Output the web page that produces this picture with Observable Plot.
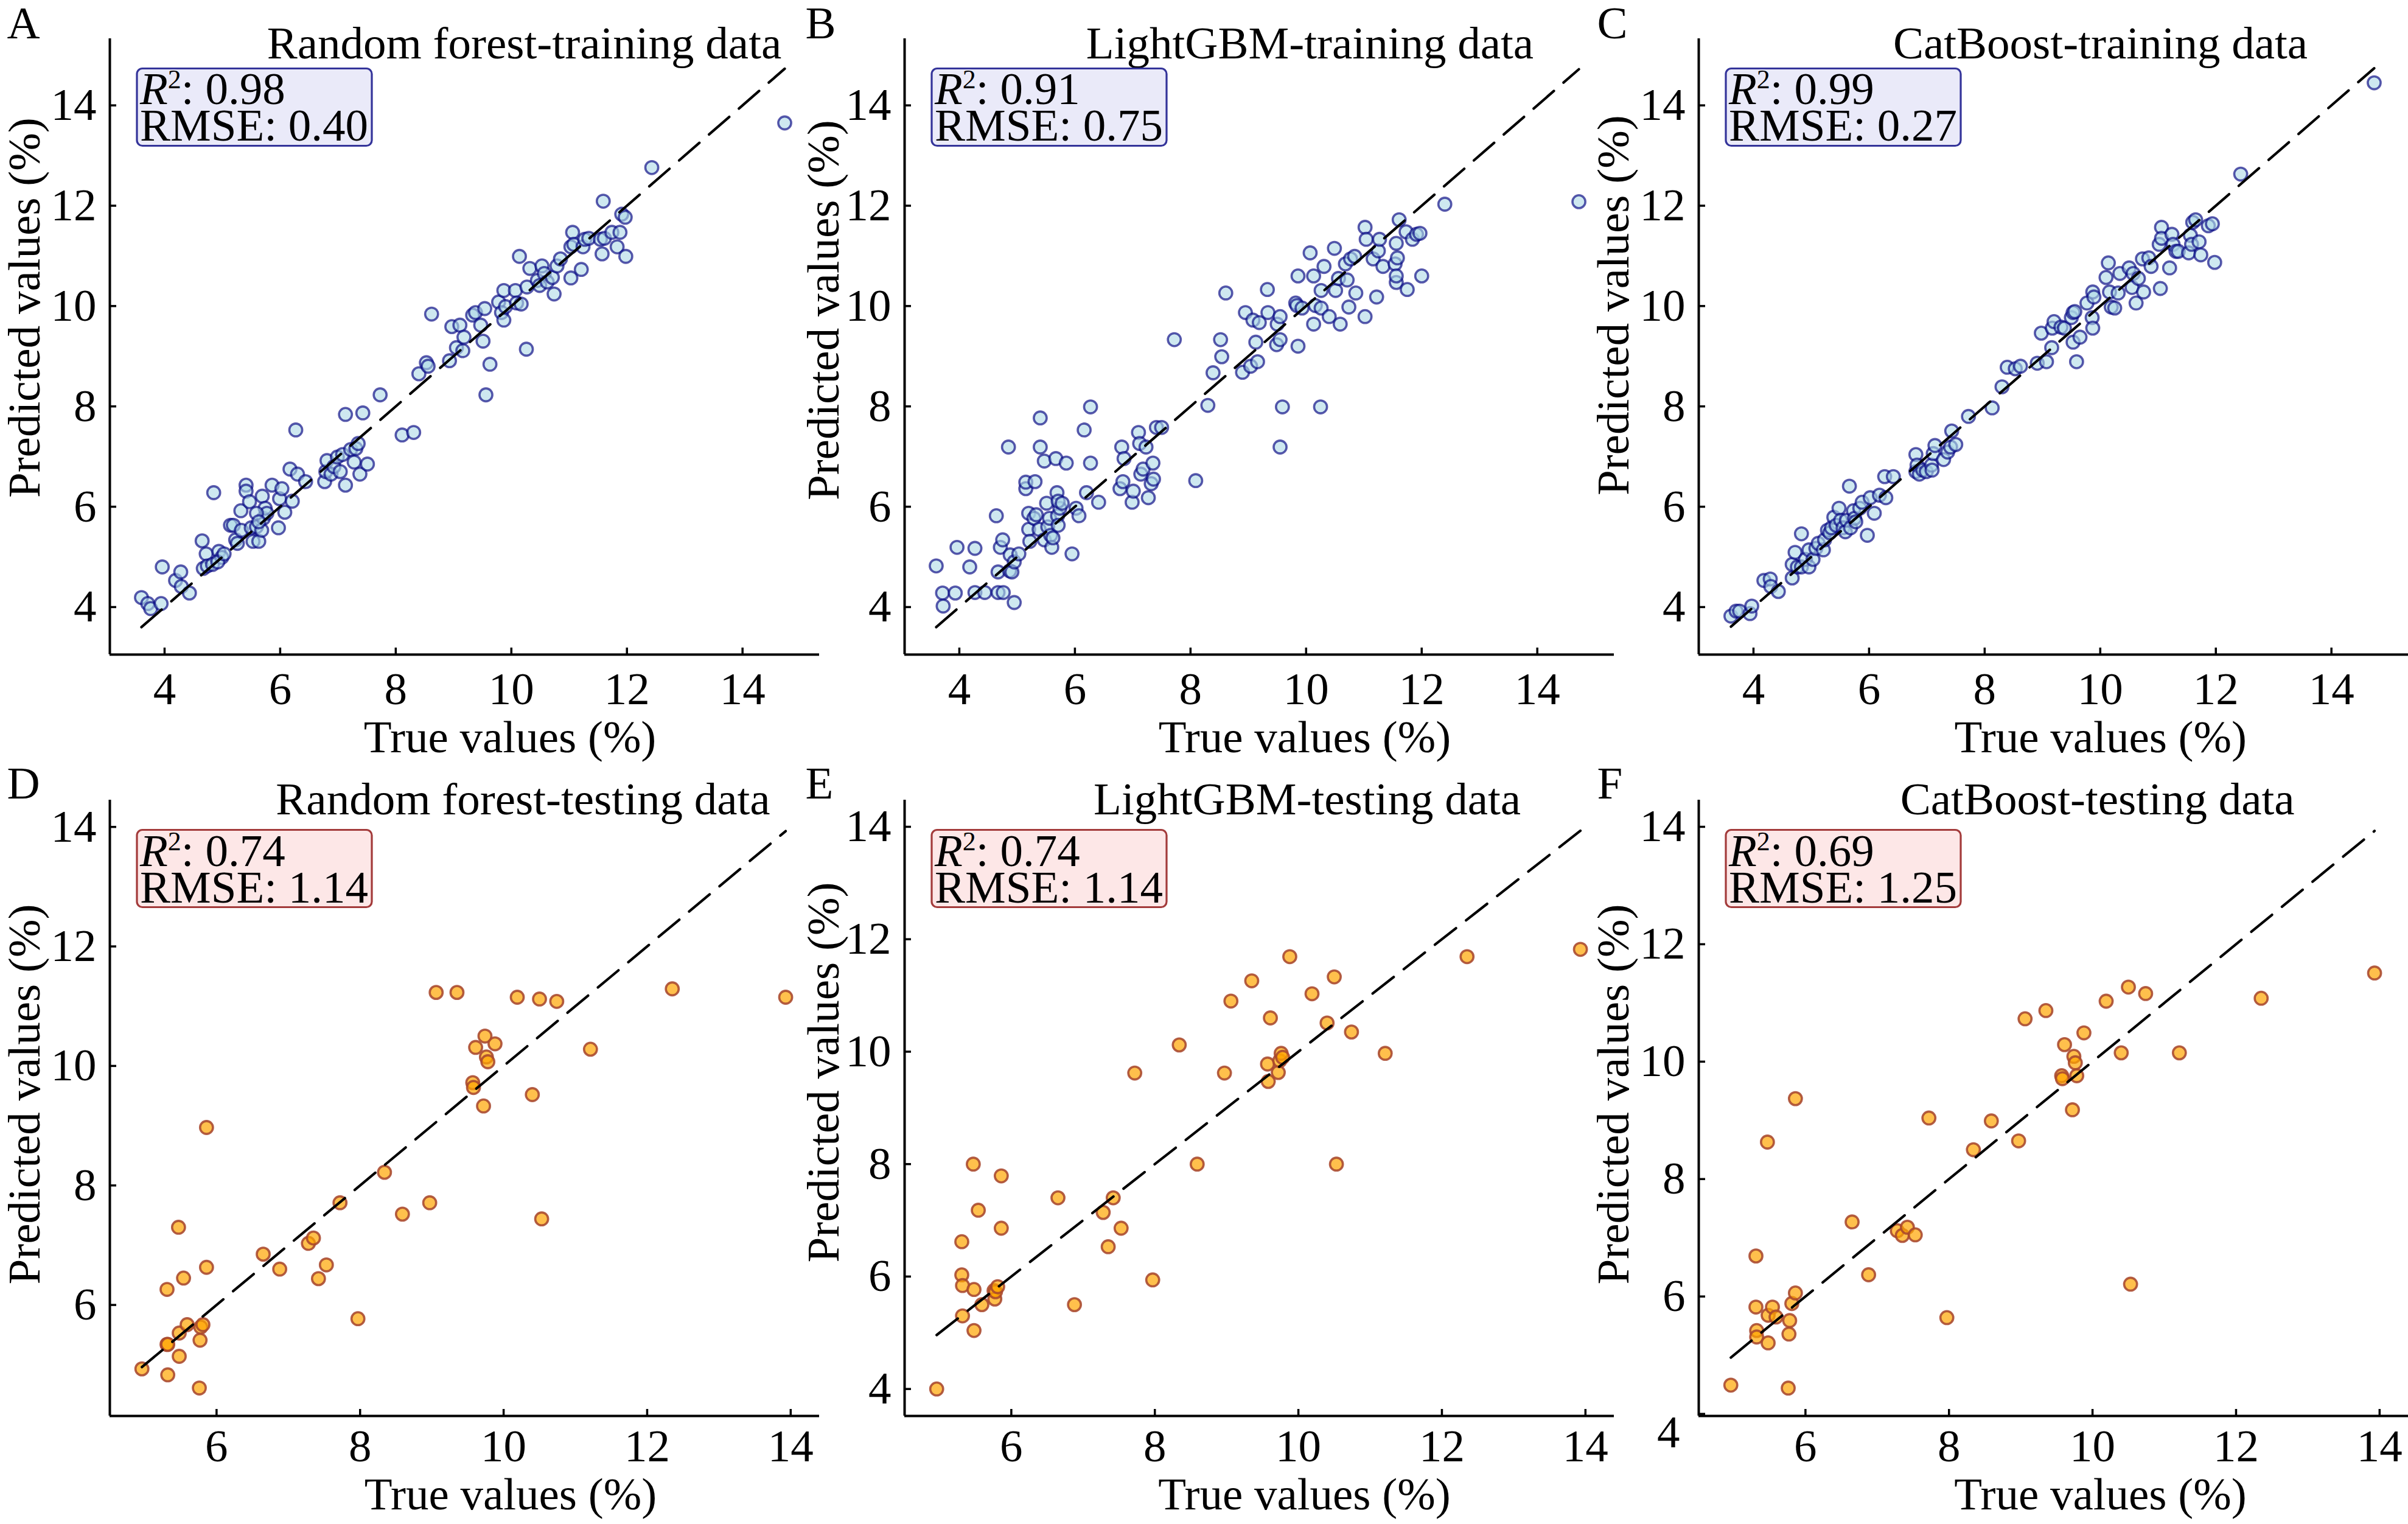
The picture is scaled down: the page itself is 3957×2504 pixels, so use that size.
<!DOCTYPE html>
<html><head><meta charset="utf-8">
<script src="https://cdn.jsdelivr.net/npm/d3@7"></script>
<script src="https://cdn.jsdelivr.net/npm/@observablehq/plot@0.6"></script>
<style>
html,body{margin:0;padding:0;background:#fff}
#fig{position:relative;width:3957px;height:2504px;background:#fff;overflow:hidden}
#fig svg{position:absolute}
</style></head>
<body><div id="fig"></div>
<script>
// ---------- DATA ----------
// Training set: [true, predicted] for each model
const rfTrain = [[3.60,4.19],[3.71,4.07],[3.76,3.97],[3.94,4.07],[3.96,4.80],[4.19,4.53],[4.28,4.70],[4.29,4.41],[4.43,4.28],[4.65,5.32],[4.72,5.06],[4.67,4.77],[4.74,4.82],[4.83,4.85],[4.94,5.11],[4.99,4.99],[4.92,4.90],[5.03,5.06],[4.85,6.28],[5.14,5.63],[5.19,5.63],[5.23,5.34],[5.26,5.27],[5.32,5.92],[5.33,5.53],[5.41,6.43],[5.41,6.31],[5.47,6.10],[5.50,5.58],[5.53,5.31],[5.59,5.60],[5.63,5.31],[5.68,5.53],[5.69,6.21],[5.71,5.77],[5.74,5.97],[5.77,5.87],[5.86,6.43],[5.97,5.58],[5.99,6.16],[6.03,6.36],[6.08,5.89],[6.21,6.11],[6.17,6.75],[6.30,6.65],[6.27,7.53],[6.44,6.50],[5.59,5.87],[5.63,5.70],[6.77,6.50],[6.79,6.70],[6.81,6.92],[6.88,6.65],[6.93,6.80],[6.99,6.99],[7.04,6.70],[7.08,7.04],[7.13,6.43],[7.13,7.84],[7.22,7.14],[7.28,6.89],[7.31,7.16],[7.35,7.26],[7.38,6.65],[7.43,7.87],[7.51,6.85],[7.73,8.23],[8.11,7.43],[8.31,7.48],[8.40,8.65],[8.53,8.87],[8.56,8.80],[8.62,9.84],[8.93,8.91],[8.97,9.59],[9.05,9.17],[9.11,9.62],[9.16,9.11],[9.18,9.38],[9.33,9.82],[9.38,9.87],[9.47,9.62],[9.51,9.30],[9.54,9.95],[9.56,8.23],[9.63,8.84],[9.78,10.08],[9.83,9.87],[9.87,9.72],[9.87,10.31],[9.90,9.99],[10.07,10.31],[10.09,10.06],[10.14,10.99],[10.17,10.04],[10.26,9.14],[10.27,10.38],[10.32,10.75],[10.45,10.51],[10.49,10.41],[10.53,10.80],[10.57,10.65],[10.62,10.48],[10.71,10.57],[10.74,10.24],[10.79,10.80],[10.85,10.94],[11.03,11.18],[11.03,10.56],[11.06,11.47],[11.08,11.23],[11.21,10.73],[11.24,11.18],[11.27,11.33],[11.34,11.35],[11.54,11.33],[11.57,11.04],[11.59,12.09],[11.61,11.35],[11.74,11.47],[11.83,11.18],[11.88,11.47],[11.91,11.83],[11.97,11.77],[11.98,10.99],[12.43,12.76],[14.73,13.65]];
const lgbmTrain = [[3.60,4.82],[3.71,4.28],[3.72,4.02],[3.93,4.28],[3.96,5.19],[4.18,4.80],[4.27,5.17],[4.27,4.29],[4.44,4.29],[4.67,4.29],[4.76,4.29],[4.95,4.09],[4.64,5.82],[4.67,4.70],[4.71,5.19],[4.75,5.34],[4.85,7.19],[4.87,4.72],[4.88,5.04],[4.91,4.70],[4.95,4.90],[5.03,5.06],[5.15,6.36],[5.15,6.49],[5.20,5.87],[5.20,5.55],[5.22,5.31],[5.29,5.77],[5.33,5.84],[5.31,6.50],[5.38,5.55],[5.40,7.19],[5.40,7.77],[5.47,6.91],[5.47,5.34],[5.51,6.07],[5.53,5.60],[5.56,5.77],[5.58,5.43],[5.60,5.19],[5.62,5.38],[5.67,6.96],[5.69,6.28],[5.70,5.82],[5.71,5.63],[5.74,5.97],[5.71,6.11],[5.78,6.07],[5.85,6.87],[5.95,5.06],[6.02,5.97],[6.07,5.82],[6.16,7.53],[6.20,6.28],[6.27,7.99],[6.27,6.87],[6.41,6.09],[6.78,6.36],[6.81,7.19],[6.83,6.50],[6.85,6.96],[6.99,6.09],[7.01,6.31],[7.10,7.48],[7.12,7.26],[7.14,6.65],[7.18,6.75],[7.23,7.19],[7.27,6.18],[7.32,6.46],[7.35,6.87],[7.36,6.55],[7.41,7.58],[7.50,7.58],[7.72,9.33],[8.09,6.52],[8.30,8.02],[8.39,8.67],[8.52,9.33],[8.54,8.99],[8.61,10.26],[8.90,8.68],[8.95,9.87],[9.04,8.80],[9.08,9.72],[9.13,9.28],[9.16,8.89],[9.19,9.67],[9.33,10.33],[9.34,9.87],[9.49,9.23],[9.50,9.64],[9.55,9.33],[9.55,7.19],[9.59,7.99],[9.55,9.79],[9.82,10.06],[9.84,10.01],[9.86,9.20],[9.86,10.60],[9.93,9.96],[10.07,11.06],[10.13,10.60],[10.13,9.64],[10.16,10.01],[10.25,7.99],[10.26,10.31],[10.26,9.96],[10.31,10.79],[10.40,9.79],[10.49,11.15],[10.51,10.31],[10.56,10.55],[10.59,9.64],[10.68,10.84],[10.71,10.52],[10.74,9.98],[10.77,10.94],[10.84,10.99],[10.86,10.26],[11.02,11.57],[11.02,9.79],[11.04,11.33],[11.16,10.94],[11.22,10.18],[11.25,11.10],[11.27,11.33],[11.33,10.79],[11.54,10.84],[11.56,11.25],[11.58,10.96],[11.56,10.47],[11.56,10.60],[11.61,11.72],[11.73,11.48],[11.75,10.33],[11.84,11.33],[11.91,11.43],[11.97,11.45],[12.00,10.60],[12.40,12.03],[14.72,12.08]];
const catTrain = [[3.61,3.82],[3.70,3.92],[3.76,3.92],[3.94,3.87],[3.97,4.02],[4.18,4.53],[4.29,4.56],[4.30,4.41],[4.43,4.31],[4.67,4.58],[4.67,4.85],[4.72,5.09],[4.76,4.80],[4.83,5.46],[4.83,4.80],[4.90,4.95],[4.96,5.14],[4.96,4.80],[5.03,4.95],[5.08,5.17],[5.12,5.27],[5.21,5.14],[5.23,5.34],[5.28,5.53],[5.32,5.48],[5.35,5.58],[5.39,5.79],[5.43,5.63],[5.48,5.97],[5.51,5.73],[5.55,5.58],[5.59,5.50],[5.61,5.73],[5.66,6.41],[5.68,5.58],[5.73,5.92],[5.75,5.77],[5.77,5.70],[5.84,5.97],[5.88,6.09],[5.97,5.43],[6.02,6.18],[6.09,5.87],[6.18,6.23],[6.29,6.18],[6.27,6.60],[6.42,6.60],[6.81,7.04],[6.81,6.70],[6.83,6.83],[6.87,6.65],[6.93,6.73],[6.99,6.70],[7.08,6.83],[7.09,6.73],[7.11,7.06],[7.14,7.22],[7.29,6.94],[7.36,7.09],[7.41,7.19],[7.43,7.51],[7.50,7.24],[7.72,7.80],[8.13,7.97],[8.30,8.39],[8.39,8.78],[8.53,8.75],[8.62,8.80],[8.91,8.86],[8.98,9.46],[9.07,8.89],[9.16,9.17],[9.17,9.56],[9.20,9.69],[9.32,9.58],[9.38,9.56],[9.50,9.77],[9.53,9.87],[9.53,9.28],[9.56,9.89],[9.59,8.89],[9.65,9.38],[9.77,10.06],[9.86,9.77],[9.87,9.56],[9.87,10.28],[9.89,10.18],[10.10,10.57],[10.14,10.86],[10.16,10.28],[10.19,9.98],[10.25,9.96],[10.31,10.26],[10.34,10.65],[10.50,10.76],[10.55,10.37],[10.57,10.65],[10.62,10.06],[10.66,10.55],[10.73,10.94],[10.75,10.28],[10.84,10.96],[10.88,10.79],[11.02,11.23],[11.04,10.35],[11.06,11.57],[11.06,11.35],[11.20,10.76],[11.24,11.43],[11.26,11.23],[11.31,11.09],[11.35,11.09],[11.53,11.06],[11.56,11.41],[11.58,11.23],[11.60,11.67],[11.65,11.72],[11.71,11.28],[11.74,11.02],[11.87,11.60],[11.94,11.64],[11.98,10.87],[12.43,12.63],[14.74,14.45]];

// Testing set: shared true values and each model's predictions
const testTrue = [4.96,5.31,5.31,5.32,5.32,5.47,5.48,5.48,5.54,5.59,5.76,5.77,5.78,5.81,5.86,5.86,6.65,6.88,7.28,7.35,7.42,7.53,7.72,7.97,8.34,8.59,8.97,9.06,9.35,9.57,9.58,9.61,9.72,9.74,9.76,9.78,9.88,10.19,10.40,10.50,10.53,10.74,11.21,12.35,13.93];
const rfTest   = [4.93,6.26,5.34,5.34,4.83,7.30,5.53,5.14,6.45,5.67,4.61,5.41,5.63,5.67,8.97,6.63,6.85,6.60,7.03,7.12,6.44,6.67,7.71,5.77,8.22,7.52,7.71,11.23,11.23,9.72,9.64,10.31,9.33,10.50,10.15,10.07,10.37,11.15,9.52,11.12,7.44,11.08,10.28,11.29,11.15];
const lgbmTest = [4.00,6.62,6.03,5.84,5.30,8.00,5.77,5.04,7.18,5.50,5.75,5.60,5.73,5.82,7.79,6.86,7.40,5.50,7.14,6.53,7.40,6.86,9.62,5.94,10.12,8.00,9.62,10.90,11.26,9.78,9.47,10.60,9.63,9.84,9.97,9.90,11.69,11.03,10.51,11.33,8.00,10.35,9.97,11.69,11.82];
const catTest  = [4.49,6.69,5.82,5.42,5.31,8.63,5.68,5.21,5.82,5.65,4.44,5.36,5.59,5.88,9.37,6.06,7.27,6.37,7.12,7.04,7.18,7.05,9.04,5.64,8.50,8.99,8.65,10.73,10.87,9.76,9.71,10.29,9.18,10.09,9.98,9.76,10.49,11.03,10.15,11.27,6.21,11.16,10.15,11.08,11.51];

// Axis limits and ticks
const trainLim = [3.053, 15.33];
const testXLim = [4.513, 14.40];
const testYLimRF = [4.142, 14.45], testYLimLGBM = [3.52, 14.476], testYLimCat = [3.965, 14.456];
const trainTicks = [4, 6, 8, 10, 12, 14];
const testXTicks = [6, 8, 10, 12, 14];
const testYTicksRF = [6, 8, 10, 12, 14];
const testYTicksAll = [4, 6, 8, 10, 12, 14];

const letters = ["A", "B", "C", "D", "E", "F"];
const titles = ["Random forest-training data", "LightGBM-training data", "CatBoost-training data",
                "Random forest-testing data", "LightGBM-testing data", "CatBoost-testing data"];
const r2s = ["0.98", "0.91", "0.99", "0.74", "0.74", "0.69"];
const rmses = ["0.40", "0.75", "0.27", "1.14", "1.14", "1.25"];

// ---------- LAYOUT ----------
const FONT = '"Liberation Serif","Times New Roman",Times,serif';
const colLeft = [179.5, 1485.5, 2790.5];
const rowTop = [63.3, 1314];
const AW = 1166, AH = 1012;
const mL = 176, mR = 0, mT = 60, mB = 185;

const testPts = preds => testTrue.map((t, i) => [t, preds[i]]);
const panels = [
  {data: rfTrain,   xd: trainLim, yd: trainLim, xt: trainTicks, yt: trainTicks, kind: "train", titleX: 861,  xlabX: 837.6,  ylabDx: -115, ylabY: 506},
  {data: lgbmTrain, xd: trainLim, yd: trainLim, xt: trainTicks, yt: trainTicks, kind: "train", titleX: 2152, xlabX: 2143.4, ylabDx: -108, ylabY: 510},
  {data: catTrain,  xd: trainLim, yd: trainLim, xt: trainTicks, yt: trainTicks, kind: "train", titleX: 3451, xlabX: 3451.3, ylabDx: -115, ylabY: 502},
  {data: testPts(rfTest),   xd: testXLim, yd: testYLimRF,   xt: testXTicks, yt: testYTicksRF,  kind: "test", titleX: 859,    xlabX: 838.5, ylabDx: -115, ylabY: 1798},
  {data: testPts(lgbmTest), xd: testXLim, yd: testYLimLGBM, xt: testXTicks, yt: testYTicksAll, kind: "test", titleX: 2147.6, xlabX: 2143,  ylabDx: -108, ylabY: 1762},
  {data: testPts(catTest),  xd: testXLim, yd: testYLimCat,  xt: testXTicks, yt: testYTicksAll, kind: "test", titleX: 3446.2, xlabX: 3451,  ylabDx: -115, ylabY: 1798, lowTickShift: true}
];

const styles = {
  train: {fill: "#add8e6", fillOpacity: 0.6, stroke: "#000080", strokeOpacity: 0.65,
          boxFill: "#eaeaf9", boxStroke: "#34349a"},
  test:  {fill: "#ffa500", fillOpacity: 0.7, stroke: "#a8482e", strokeOpacity: 0.88,
          boxFill: "#fde7e7", boxStroke: "#a33b3b"}
};

const letterX = [11, 1323, 2624];
const letterBase = [63, 1312.4];
const titleBase = [96.7, 1338];
const xlabBase = [1236, 2480];

const fig = d3.select("#fig");

panels.forEach((p, i) => {
  const col = i % 3, row = Math.floor(i / 3);
  const st = styles[p.kind];
  const pts = p.data.map(([x, y]) => ({x, y}));
  const ext = d3.extent(pts, d => d.x);
  const diag = [{x: ext[0], y: ext[0]}, {x: ext[1], y: ext[1]}];
  const pad = row === 0 ? 28.5 : 21.5;
  const normalY = p.lowTickShift ? p.yt.filter(t => t !== p.yt[0]) : p.yt;
  const marks = [
    Plot.dot(pts, {x: "x", y: "y", r: 10.6, fill: st.fill, fillOpacity: st.fillOpacity,
                   stroke: st.stroke, strokeOpacity: st.strokeOpacity, strokeWidth: 3.6}),
    Plot.line(diag, {x: "x", y: "y", stroke: "#000", strokeWidth: 4.2, strokeDasharray: "44,21"}),
    Plot.ruleX([p.xd[0]], {stroke: "#000", strokeWidth: 4}),
    Plot.ruleY([p.yd[0]], {stroke: "#000", strokeWidth: 4}),
    // inward tick marks only (no text)
    Plot.axisX({ticks: p.xt, tickSize: -11, strokeWidth: 3.5, fill: "none"}),
    Plot.axisY({ticks: p.yt, tickSize: -11, strokeWidth: 3.5, fill: "none"}),
    // tick labels only
    Plot.axisX({ticks: p.xt, tickSize: 0, tickPadding: pad, fontSize: 75, fontFamily: FONT, fill: "#000"}),
    Plot.axisY({ticks: normalY, tickSize: 0, tickPadding: 22, fontSize: 75, fontFamily: FONT, fill: "#000"})
  ];
  if (p.lowTickShift) {
    marks.push(Plot.axisY({ticks: [p.yt[0]], tickSize: 0, tickPadding: 22, dx: -9, dy: 31,
                           fontSize: 75, fontFamily: FONT, fill: "#000"}));
  }
  const svg = Plot.plot({
    width: AW + mL + mR, height: AH + mT + mB,
    marginLeft: mL, marginRight: mR, marginTop: mT, marginBottom: mB,
    style: {background: "none", maxWidth: "none", overflow: "visible", fontFamily: FONT, fontSize: "75px", color: "#000"},
    x: {domain: p.xd, label: null},
    y: {domain: p.yd, label: null},
    marks
  });
  const ox = colLeft[col] - mL, oy = rowTop[row] - mT;
  svg.style.left = ox + "px";
  svg.style.top = oy + "px";
  fig.node().appendChild(svg);

  // ---- panel texts, inside the panel's own SVG (figure coords shifted by the SVG origin) ----
  const L = colLeft[col], T = rowTop[row];
  const g = d3.select(svg).append("g")
    .attr("transform", `translate(${-ox},${-oy})`)
    .attr("font-family", FONT).attr("font-size", 75).attr("fill", "#000").attr("text-anchor", "start");
  g.append("text").attr("x", letterX[col]).attr("y", letterBase[row]).text(letters[i]);
  g.append("text").attr("x", p.titleX).attr("y", titleBase[row]).attr("text-anchor", "middle").text(titles[i]);
  g.append("text").attr("x", p.xlabX).attr("y", xlabBase[row]).attr("text-anchor", "middle").text("True values (%)");
  g.append("text").attr("text-anchor", "middle")
    .attr("transform", `translate(${L + p.ylabDx},${p.ylabY}) rotate(-90)`)
    .text("Predicted values (%)");
  // statistics box
  const bx = L + 45, by = T + 49.5;
  g.append("rect").attr("x", bx).attr("y", by).attr("width", 386).attr("height", 127)
    .attr("rx", 9).attr("fill", st.boxFill).attr("stroke", st.boxStroke).attr("stroke-width", 3.2);
  const t = g.append("text").attr("x", bx + 5).attr("y", by + 59);
  t.append("tspan").attr("font-style", "italic").text("R");
  t.append("tspan").attr("font-size", 44).attr("dy", -26).text("2");
  t.append("tspan").attr("dy", 26).text(": " + r2s[i]);
  t.append("tspan").attr("x", bx + 5).attr("dy", 60).text("RMSE: " + rmses[i]);
});
</script>
</body></html>
